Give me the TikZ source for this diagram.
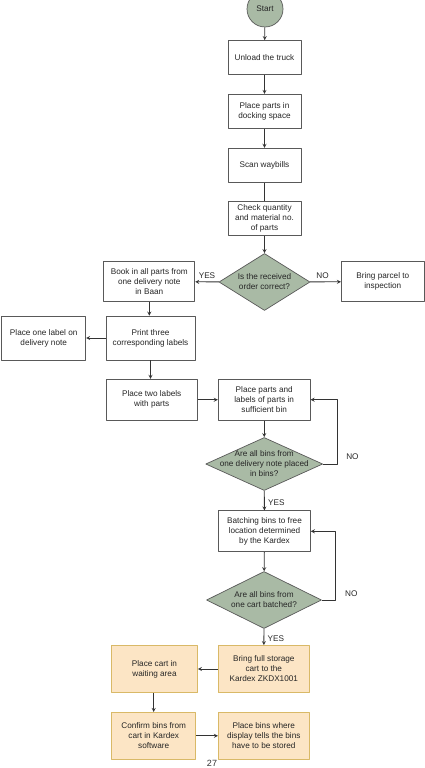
\documentclass[tikz,border=0pt]{standalone}
\usepackage{fontspec}
\setmainfont{Liberation Sans}
\usetikzlibrary{shapes.geometric}
\definecolor{sage}{HTML}{A9BAA5}
\definecolor{peach}{HTML}{FCE5C5}
\definecolor{sand}{HTML}{D9B967}

\begin{document}
\begin{tikzpicture}[x=1pt,y=-1pt,line join=round,>=stealth,line width=0.8pt]
        \tikzset{every node/.style={font=\fontsize{8.2}{10}\selectfont,align=center,text=black!85},
            proc/.style={draw=black!65,fill=white,line width=0.7pt,inner sep=1pt},
            orng/.style={draw=sand,fill=peach,line width=0.7pt,inner sep=1pt},
            dec/.style={diamond,draw=black!65,fill=sage,line width=0.7pt,inner sep=0pt},
            flow/.style={->,draw=black!80}}
        \useasboundingbox (0,0) rectangle (425,768);
        % main column
        \node[circle,draw=black!65,fill=sage,line width=0.7pt,minimum size=36pt,inner sep=0pt] (start) at (265,9) {Start};
        \node[proc,minimum width=73pt,minimum height=34pt] (unload) at (264.5,57.5) {Unload the truck};
        \node[proc,minimum width=73pt,minimum height=34pt] (dock) at (264.5,111.3) {Place parts in\\docking space};
        \node[proc,minimum width=73pt,minimum height=34pt] (scan) at (264.5,165.2) {Scan waybills};
        \node[proc,minimum width=73pt,minimum height=34pt] (check) at (264.5,218.5) {Check quantity\\and material no.\\of parts};
        \node[dec,minimum width=91pt,minimum height=57pt,label={center:Is the received\\order correct?}] (dec1) at (264.5,282) {};
        \node[proc,minimum width=91pt,minimum height=40pt] (book) at (149.3,281.7) {Book in all parts from\\one delivery note\\in Baan};
        \node[proc,minimum width=83pt,minimum height=40pt] (parcel) at (382.8,281.7) {Bring parcel to\\inspection};
        \node[proc,minimum width=89pt,minimum height=44pt] (print) at (150.5,338) {Print three\\corresponding labels};
        \node[proc,minimum width=84pt,minimum height=44pt] (onelabel) at (43.7,338) {Place one label on\\delivery note};
        \node[proc,minimum width=91pt,minimum height=41pt] (twolabels) at (151.7,399.7) {Place two labels\\with parts};
        \node[proc,minimum width=92pt,minimum height=41pt] (parts) at (264.2,399.7) {Place parts and\\labels of parts in\\sufficient bin};
        \node[dec,minimum width=117pt,minimum height=53pt,label={center:Are all bins from\\one delivery note placed\\in bins?}] (dec2) at (264.2,464) {};
        \node[proc,minimum width=92pt,minimum height=41pt] (batch) at (264.5,531.3) {Batching bins to free\\location determined\\by the Kardex};
        \node[dec,minimum width=115pt,minimum height=57pt,label={center:Are all bins from\\one cart batched?}] (dec3) at (264,600) {};
        % storage part
        \node[orng,minimum width=91pt,minimum height=47pt] (bring) at (263.8,669) {Bring full storage\\cart to the\\Kardex ZKDX1001};
        \node[orng,minimum width=86pt,minimum height=47pt] (cart) at (154.5,669) {Place cart in\\waiting area};
        \node[orng,minimum width=84pt,minimum height=47pt] (confirm) at (153.7,735.8) {Confirm bins from\\cart in Kardex\\software};
        \node[orng,minimum width=91pt,minimum height=47pt] (bins) at (263.8,735.8) {Place bins where\\display tells the bins\\have to be stored};
        \node[font=\fontsize{9}{11}\selectfont,text=black!80,inner sep=0pt] (page) at (212,763.5) {27};
        % connectors
        \draw[flow] (start) -- (unload);
        \draw[flow] (unload) -- (dock);
        \draw[flow] (dock) -- (scan);
        \draw[draw=black!80] (scan) -- (check);
        \draw[flow] (check) -- (dec1);
        \draw[flow] (dec1) -- node[above] {YES} (book);
        \draw[flow] (dec1) -- node[above,xshift=-3pt] {NO} (parcel);
        \draw[flow] (book.south) -- (book.south |- print.north);
        \draw[flow] (print) -- (onelabel);
        \draw[flow] (print.south) -- (print.south |- twolabels.north);
        \draw[flow] (twolabels) -- (parts);
        \draw[flow] (parts) -- (dec2);
        \draw[flow] (dec2.east) -- ++(14.5,0) node[right,xshift=5pt,yshift=7pt] {NO} |- (parts.east);
        \draw[flow] (dec2) -- node[right,yshift=-2pt] {YES} (batch);
        \draw[flow] (batch) -- (dec3);
        \draw[flow] (dec3.east) -- ++(13.5,0) node[right,xshift=6pt,yshift=6pt] {NO} |- (batch.east);
        \draw[flow] (dec3) -- node[right,yshift=-2pt] {YES} (bring);
        \draw[flow] (bring) -- (cart);
        \draw[flow] (confirm.north |- cart.south) -- (confirm.north);
        \draw[flow] (confirm) -- (bins);
    \end{tikzpicture}
\end{document}
